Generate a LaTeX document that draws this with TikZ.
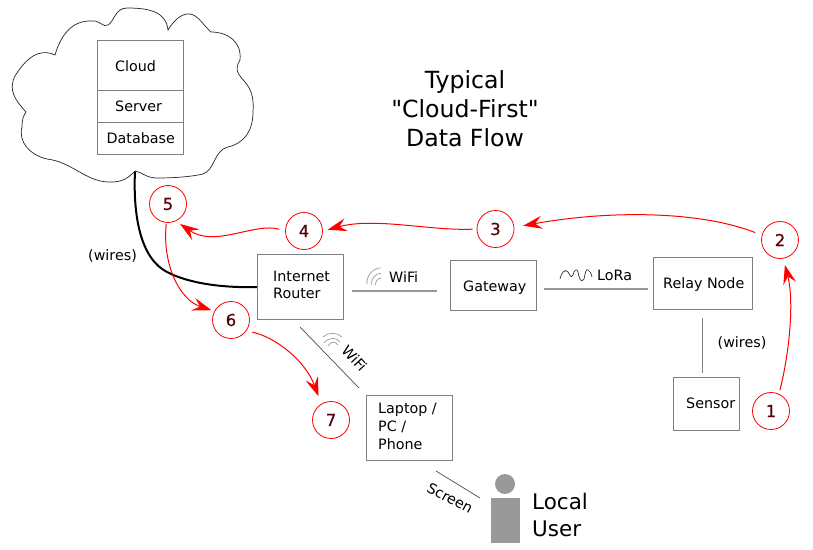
\documentclass[tikz,border=0pt]{standalone}
\usepackage{fontspec}
\setmainfont{DejaVu Sans}
\newfontfamily\plainfont{DejaVu Sans}
\newfontfamily\numfont{DejaVu Sans}[FakeBold=0.35]
\usetikzlibrary{arrows.meta}
\definecolor{edgegray}{HTML}{808080}
\definecolor{linegray}{HTML}{999999}
\definecolor{figgray}{HTML}{999999}
\definecolor{flowred}{HTML}{FF0000}
\definecolor{digit}{HTML}{560008}
\tikzset{
  x=1pt,y=-1pt,
  box/.style={draw=edgegray,line width=0.9pt,inner sep=0pt,outer sep=0pt,anchor=north west,fill=white},
  lbl/.style={font=\fontsize{14.3}{18}\selectfont,inner sep=0pt,align=left},
  big/.style={font=\plainfont\fontsize{23.6}{29}\selectfont,inner sep=0pt},
  person/.style={font=\fontsize{21.5}{27}\selectfont,inner sep=0pt,anchor=base west},
  num/.style={circle,draw=flowred,line width=0.8pt,minimum size=37pt,inner sep=0pt,text=digit,font=\numfont\fontsize{16.5}{16}\selectfont},
  flow/.style={draw=flowred,line width=1pt,-{Stealth[length=19pt,width=13pt,inset=7pt,fill=flowred]}},
  link/.style={draw=linegray,line width=1.6pt},
  thinlink/.style={draw=black!70,line width=0.7pt},
  wave/.style={draw=linegray,line width=0.7pt},
}
\begin{document}
\begin{tikzpicture}
\useasboundingbox (0,0) rectangle (813,549);
% wire
\coordinate (wirea) at (135,171);
\coordinate (wireb) at (258,287);
\draw[line width=2pt] (wirea) .. controls (133,215) and (140,258) .. (167,272)
   .. controls (190,284) and (225,288) .. (wireb);
% cloud
\draw[line width=0.7pt,draw=black!85,fill=white] (135,171)
 .. controls (130,176) and (124,183) .. (108,182)
 .. controls (85,181) and (72,162) .. (47,159)
 .. controls (30,155) and (18,142) .. (22,127)
 .. controls (22,118) and (24,115) .. (26,112)
 .. controls (15,100) and (8,90) .. (15,76)
 .. controls (25,60) and (38,47) .. (55,55)
 .. controls (60,38) and (70,20) .. (92,21)
 .. controls (100,20) and (103,28) .. (108,25)
 .. controls (114,22) and (115,8) .. (127,8)
 .. controls (150,8) and (166,12) .. (168,30)
 .. controls (174,20) and (182,13) .. (190,14)
 .. controls (198,15) and (204,26) .. (211,32)
 .. controls (228,32) and (242,42) .. (240,60)
 .. controls (234,70) and (238,74) .. (245,82)
 .. controls (252,90) and (254,100) .. (253,112)
 .. controls (253,130) and (245,143) .. (228,147)
 .. controls (214,150) and (215,170) .. (203,174)
 .. controls (190,177) and (172,178) .. (157,178)
 .. controls (146,178) and (142,172) .. (135,171) -- cycle;
% cloud stack
\node[box,minimum width=86pt,minimum height=50pt] (cloudb) at (97,40.5) {};
\node[box,minimum width=86pt,minimum height=32pt] (serverb) at (97,90.5) {};
\node[box,minimum width=86pt,minimum height=32pt] (dbb) at (97,122) {};
\node[lbl,anchor=base west] (cloudt) at (115,71) {Cloud};
\node[lbl,anchor=base west] (servert) at (115,111) {Server};
\node[lbl,anchor=base west] (dbt) at (106.5,143) {Database};
% title
\node[big,align=center] (title) at (465,108.5) {Typical\\"Cloud-First"\\Data Flow};
% boxes
\node[box,minimum width=85.5pt,minimum height=65.5pt] (router) at (257.5,254) {};
\node[lbl,anchor=north west,font=\fontsize{14.3}{17.5}\selectfont] (routert) at (273,270.5) {Internet\\Router};
\node[box,minimum width=86pt,minimum height=50pt] (gateway) at (450,260.5) {};
\node[lbl,anchor=base west] (gatewayt) at (463,291) {Gateway};
\node[box,minimum width=99pt,minimum height=52pt] (relay) at (653,257) {};
\node[lbl,anchor=base west] (relayt) at (663,288) {Relay Node};
\node[box,minimum width=66pt,minimum height=53pt] (sensor) at (673,377) {};
\node[lbl,anchor=base west] (sensort) at (686,408) {Sensor};
\node[box,minimum width=86pt,minimum height=65pt] (laptop) at (366,395.5) {};
\node[lbl,anchor=north west] (laptopt) at (378,403) {Laptop /\\PC /\\Phone};
% links
\coordinate (wifia) at (352,291); \coordinate (wifib) at (437,291);
\draw[link] (wifia) -- (wifib);
\coordinate (loraa) at (544,289); \coordinate (lorab) at (648,289);
\draw[link] (loraa) -- (lorab);
\coordinate (wa) at (702.5,318); \coordinate (wb) at (702.5,373);
\draw[draw=edgegray,line width=0.9pt] (wa) -- (wb);
\coordinate (la) at (300,327); \coordinate (lb) at (359,388);
\draw[thinlink] (la) -- (lb);
\coordinate (sa) at (436,471); \coordinate (sb) at (480,498);
\draw[thinlink] (sa) -- (sb);
% link labels
\node[lbl,anchor=base west] (wifit) at (389,282) {WiFi};
\node[lbl,anchor=base west] (lorat) at (597,280) {LoRa};
\node[lbl,anchor=base west] (wires1) at (717.5,347) {(wires)};
\node[lbl,anchor=base west] (wires2) at (88,260) {(wires)};
\node[lbl,rotate=-47] (wifit2) at (354.5,358.5) {WiFi};
\node[lbl,rotate=-28] (screent) at (450,498) {Screen};
% wifi glyphs
\draw[wave] (367,284) arc[start angle=175,end angle=265,radius=15];
\draw[wave] (371.5,284.5) arc[start angle=175,end angle=265,radius=10.5];
\draw[wave] (375.5,285) arc[start angle=175,end angle=265,radius=6.5];
\draw[wave] (323,337) .. controls (328,332) and (337,332) .. (342,337);
\draw[wave] (324,343) .. controls (329,337) and (336,337) .. (340,342);
\draw[wave] (328,346) .. controls (331,341) and (335,341) .. (338,345);
% lora glyph
\draw[line width=0.7pt,draw=black!80] (560,279) .. controls (561,273) and (565,268) .. (568,272)
 .. controls (570,275) and (571,279) .. (573,275)
 .. controls (574,270) and (577,268) .. (578,272)
 .. controls (579,278) and (581,284) .. (584,279)
 .. controls (585,274) and (586,268) .. (588,270)
 .. controls (590,271) and (591,273) .. (592,277);
% user
\node[circle,fill=figgray,minimum size=20pt,inner sep=0pt] (head) at (505,484) {};
\node[fill=figgray,minimum width=29pt,minimum height=45pt,inner sep=0pt,outer sep=0pt,anchor=north west] (body) at (491,498) {};
\node[person] (local) at (532,509) {Local};
\node[person] (user) at (532,536) {User};
% numbered
\node[num] (n1) at (771,411) {1};
\node[num] (n2) at (780,240) {2};
\node[num] (n3) at (495.5,229) {3};
\node[num] (n4) at (304,231) {4};
\node[num] (n5) at (168,204) {5};
\node[num] (n6) at (231,320) {6};
\node[num] (n7) at (331,420) {7};
% flows
\draw[flow,shorten <=4pt,shorten >=6.5pt] (n1.65) .. controls (790,350) and (794,300) .. (n2.-80);
\draw[flow,shorten <=7pt,shorten >=9pt] (n2.165) .. controls (700,211) and (610,210) .. (n3.5);
\draw[flow,shorten <=4pt,shorten >=5pt] (n3.180) .. controls (430,231) and (375,217) .. (n4.0);
\draw[flow,shorten <=6pt,shorten >=5pt] (n4.180) .. controls (255,222) and (215,248) .. (n5.295);
\draw[flow,shorten <=1pt,shorten >=3pt] (n5.265) .. controls (162,265) and (180,300) .. (n6.152);
\draw[flow,shorten <=6pt,shorten >=8pt] (n6.-35) .. controls (275,337) and (305,360) .. (n7.121);
\end{tikzpicture}
\end{document}
